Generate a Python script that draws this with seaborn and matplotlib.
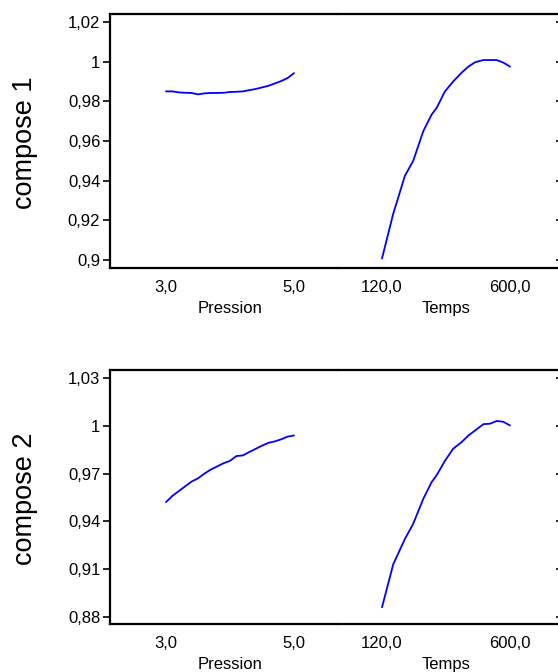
import matplotlib
matplotlib.use("Agg")
import matplotlib.pyplot as plt
import matplotlib.transforms as mtransforms
import pandas as pd
import seaborn as sns

# --- data ---
pression = [3.0, 3.1, 3.2, 3.3, 3.4, 3.5, 3.6, 3.7, 3.8, 3.9, 4.0,
            4.1, 4.2, 4.3, 4.4, 4.5, 4.6, 4.7, 4.8, 4.9, 5.0]
c1_pression = [0.9850, 0.9850, 0.9845, 0.9843, 0.9842, 0.9835, 0.9840, 0.9842, 0.9842, 0.9843, 0.9847,
               0.9848, 0.9850, 0.9856, 0.9862, 0.9870, 0.9878, 0.9890, 0.9902, 0.9917, 0.9942]
c2_pression = [0.9521, 0.9560, 0.9590, 0.9620, 0.9650, 0.9670, 0.9700, 0.9725, 0.9745, 0.9765, 0.9780,
               0.9810, 0.9814, 0.9835, 0.9855, 0.9875, 0.9893, 0.9902, 0.9915, 0.9932, 0.9939]

temps = [120, 162, 206, 237, 275, 306, 325, 356, 387, 419, 444, 469, 500, 525, 550, 575, 600]
c1_temps = [0.9008, 0.9233, 0.9425, 0.9500, 0.9650, 0.9733, 0.9767, 0.9850, 0.9900, 0.9945, 0.9975,
            0.9997, 1.0008, 1.0008, 1.0008, 0.9995, 0.9975]
c2_temps = [0.8861, 0.9130, 0.9290, 0.9385, 0.9542, 0.9646, 0.9690, 0.9780, 0.9856, 0.9898, 0.9939,
            0.9970, 1.0010, 1.0013, 1.0030, 1.0025, 1.0002]

compose_names = ["compose 1", "compose 2"]
y_ticks = [[0.90, 0.92, 0.94, 0.96, 0.98, 1.00, 1.02],
           [0.88, 0.91, 0.94, 0.97, 1.00, 1.03]]
y_ticklabels = [["0,9", "0,92", "0,94", "0,96", "0,98", "1", "1,02"],
                ["0,88", "0,91", "0,94", "0,97", "1", "1,03"]]
y_lims = [(0.896, 1.024), (0.8756, 1.035)]
p_ticks = [3.0, 5.0]
p_ticklabels = ["3,0", "5,0"]
t_ticks = [120, 600]
t_ticklabels = ["120,0", "600,0"]

sns.set_theme(style="white")
plt.rcParams['font.family'] = ["Liberation Sans", "DejaVu Sans"]
tick_size = 12

W, H = 558, 672
fig = plt.figure(figsize=(W / 100, H / 100), dpi=100)

# axes boxes in pixels: (top, bottom)
rows = [(14, 268), (370, 624)]
x_left, x_mid, x_right = 110, 338, 560

panels = [(c1_pression, c1_temps), (c2_pression, c2_temps)]

for i, (top, bot) in enumerate(rows):
    b = 1 - bot / H
    h = (bot - top) / H
    axp = fig.add_axes([x_left / W, b, (x_mid - x_left) / W, h])
    axt = fig.add_axes([x_mid / W, b, (x_right - x_mid) / W, h])
    yp, yt = panels[i]

    sns.lineplot(data=pd.DataFrame({"Pression": pression, "y": yp}), x="Pression", y="y",
                 ax=axp, color="#0000FF", linewidth=1.3)
    sns.lineplot(data=pd.DataFrame({"Temps": temps, "y": yt}), x="Temps", y="y",
                 ax=axt, color="#0000FF", linewidth=1.3)

    # x scales: 3.0 -> 166px, 5.0 -> 294px ; 120 -> 382px, 600 -> 510px
    axp.set_xlim(3.0 - (166 - x_left) / 64, 5.0 + (x_mid - 294) / 64)
    axt.set_xlim(120 - (382 - x_mid) / (128 / 480), 600 + (x_right - 510) / (128 / 480))

    for ax in (axp, axt):
        ax.set_ylim(*y_lims[i])
        ax.set_yticks(y_ticks[i])
        ax.set_facecolor("white")
        ax.grid(False)
        for s in ax.spines.values():
            s.set_color("black")
            s.set_linewidth(1.6)
        ax.set_ylabel("")

    axp.spines["right"].set_visible(False)
    axt.spines["left"].set_visible(False)

    axp.set_yticklabels(y_ticklabels[i])
    axp.tick_params(axis="y", which="both", left=True, direction="out", length=5,
                    width=1.2, color="black", labelsize=tick_size, pad=2, labelcolor="black")
    axt.yaxis.tick_right()
    axt.tick_params(axis="y", right=True, left=False, direction="in", length=3,
                    width=1.2, color="black", labelright=False)

    axp.set_xticks(p_ticks)
    axp.set_xticklabels(p_ticklabels)
    axt.set_xticks(t_ticks)
    axt.set_xticklabels(t_ticklabels)
    for ax in (axp, axt):
        ax.tick_params(axis="x", bottom=False, length=0, labelsize=tick_size, pad=9,
                       labelcolor="black")

    axp.set_xlabel("Pression", fontsize=tick_size, color="black")
    axt.set_xlabel("Temps", fontsize=tick_size, color="black")
    axp.xaxis.set_label_coords(4.0, -0.13,
                               transform=mtransforms.blended_transform_factory(axp.transData, axp.transAxes))
    axt.xaxis.set_label_coords(360, -0.13,
                               transform=mtransforms.blended_transform_factory(axt.transData, axt.transAxes))
    axp.xaxis.label.set_va("top")
    axt.xaxis.label.set_va("top")

    fig.text(25 / W, 1 - ((top + bot) / 2 + 2) / H, compose_names[i], rotation=90,
             ha="center", va="center", fontsize=19.5, color="black")

fig.savefig("out.png", dpi=100, facecolor="white")
